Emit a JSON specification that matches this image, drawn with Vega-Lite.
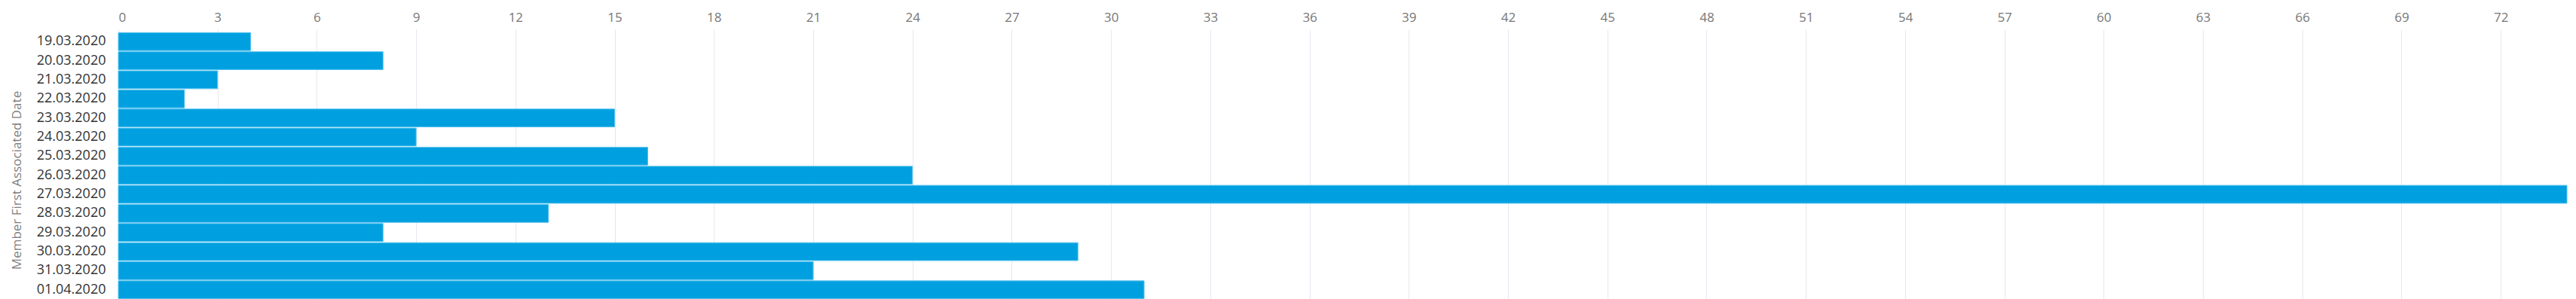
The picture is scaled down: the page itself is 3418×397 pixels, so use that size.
{
  "$schema": "https://vega.github.io/schema/vega-lite/v6.json",
  "autosize": {"type": "none"},
  "width": 3249,
  "height": 362,
  "padding": {"left": 157, "top": 39, "right": 12, "bottom": 0},
  "background": "white",
  "config": {
    "view": {"stroke": null},
    "font": "Open Sans"
  },
  "data": {
    "values": [
      {"date": "19.03.2020", "members": 4},
      {"date": "20.03.2020", "members": 8},
      {"date": "21.03.2020", "members": 3},
      {"date": "22.03.2020", "members": 2},
      {"date": "23.03.2020", "members": 15},
      {"date": "24.03.2020", "members": 9},
      {"date": "25.03.2020", "members": 16},
      {"date": "26.03.2020", "members": 24},
      {"date": "27.03.2020", "members": 74},
      {"date": "28.03.2020", "members": 13},
      {"date": "29.03.2020", "members": 8},
      {"date": "30.03.2020", "members": 29},
      {"date": "31.03.2020", "members": 21},
      {"date": "01.04.2020", "members": 31}
    ]
  },
  "mark": {"type": "bar", "fill": "#00a0e0", "stroke": "#5ec4ef", "strokeWidth": 1},
  "encoding": {
    "y": {
      "field": "date",
      "type": "nominal",
      "sort": null,
      "scale": {"paddingInner": 0.06, "paddingOuter": 0.17},
      "axis": {
        "title": "Member First Associated Date",
        "titleFont": "Open Sans",
        "titleFontSize": 17,
        "titleFontWeight": "normal",
        "titleColor": "#808080",
        "titleX": -130,
        "titleY": 200,
        "titleAngle": -90,
        "titleAlign": "center",
        "titleBaseline": "alphabetic",
        "labelFont": "Open Sans",
        "labelFontSize": 18,
        "labelColor": "#333333",
        "labelPadding": 17,
        "ticks": false,
        "domain": false,
        "grid": false
      }
    },
    "x": {
      "field": "members",
      "type": "quantitative",
      "scale": {"domain": [0, 74], "nice": false},
      "axis": {
        "orient": "top",
        "title": null,
        "values": [0, 3, 6, 9, 12, 15, 18, 21, 24, 27, 30, 33, 36, 39, 42, 45, 48, 51, 54, 57, 60, 63, 66, 69, 72],
        "labelFont": "Open Sans",
        "labelFontSize": 17,
        "labelColor": "#777777",
        "labelPadding": 7,
        "ticks": false,
        "domain": false,
        "grid": true,
        "gridColor": "#e4e9ef",
        "gridWidth": 1
      }
    }
  }
}
